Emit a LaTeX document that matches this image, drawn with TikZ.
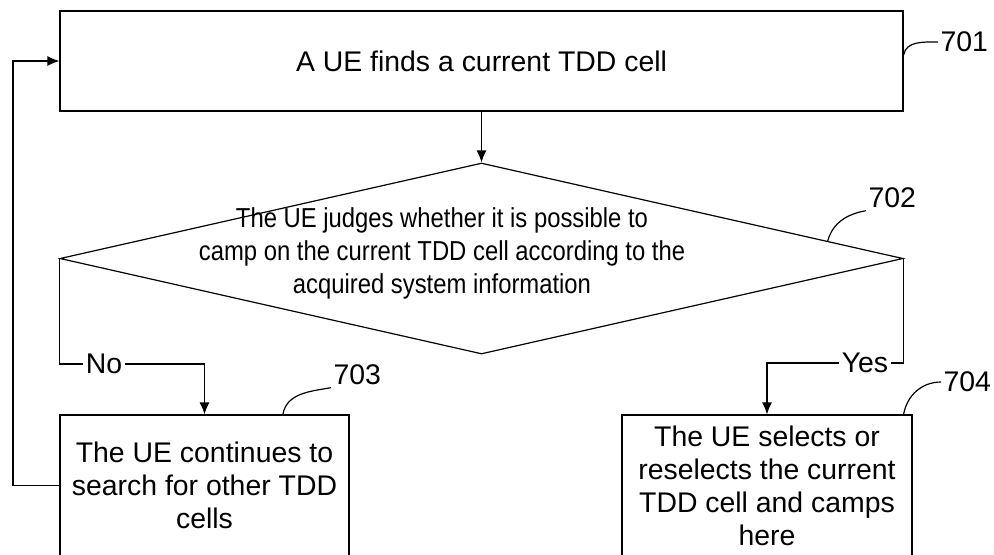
\documentclass[tikz,border=0pt]{standalone}
\usepackage{fontspec}
\setmainfont{Liberation Sans}
\usetikzlibrary{arrows.meta, shapes.geometric, calc}
\usetikzlibrary{positioning}

\begin{document}
\begin{tikzpicture}[x=0.5pt, y=-0.5pt, line width=0.6pt,
    every node/.style={font=\fontsize{14.2}{16.5}\selectfont},
    box/.style={draw, rectangle, inner sep=0pt, align=center},
    decision/.style={draw, diamond, inner sep=0pt, minimum width=421.5pt, minimum height=95.5pt},
    flow/.style={-{Latex[length=6pt,width=5pt]}},
    tag/.style={anchor=west, inner sep=1pt}]
    \useasboundingbox (0,0) rectangle (994,554);
    % steps
    \node[box, minimum width=421.5pt, minimum height=50pt] at (481.5,61) (find) {A UE finds a current TDD cell};
    \node[decision] at (481.5,258.5) (judge) {};
    \node[align=center, transform shape, xscale=0.87, font=\fontsize{13.7}{16.5}\selectfont] at (442,253) (judgetext) {The UE judges whether it is possible to\\camp on the current TDD cell according to the\\acquired system information};
    \node[box, minimum width=144.5pt, minimum height=70.5pt] at (204.5,485.5) (cont) {The UE continues to\\search for other TDD\\cells};
    \node[box, minimum width=145pt, minimum height=70.5pt] at (767,485.5) (sel) {The UE selects or\\reselects the current\\TDD cell and camps\\here};
    \node[inner sep=1pt] at (104,364) (no) {No};
    \node[inner sep=1pt] at (865,363) (yes) {Yes};
    \coordinate (loopx) at (13,0);
	\draw[flow] (find.south) -- (judge.north);
	\draw (judge.west) |- (no.west);
	\draw[flow] (no.east) -| (cont.north);
	\draw (judge.east) |- (yes.east);
	\draw[flow] (yes.west) -| (sel.north);
	\draw[flow] (cont.west) -- (cont.west -| loopx) |- (find.west);
    % reference numbers
    \node[tag] at (938,42) (n701) {701};
    \node[tag] at (866,198) (n702) {702};
    \node[tag] at (331,375) (n703) {703};
    \node[tag] at (941,382) (n704) {704};
    \draw ($(find.north east)!0.44!(find.south east)$) to[out=80,in=180] (n701.west);
    \draw ($(judge.north)!0.82!(judge.east)$) to[out=75,in=190] (n702.south west);
    \draw ($(cont.north west)!0.77!(cont.north east)$) to[out=80,in=190] (n703.south west);
    \draw (sel.north -| judge.east) to[out=80,in=180] (n704.west);
    \end{tikzpicture}
\end{document}
